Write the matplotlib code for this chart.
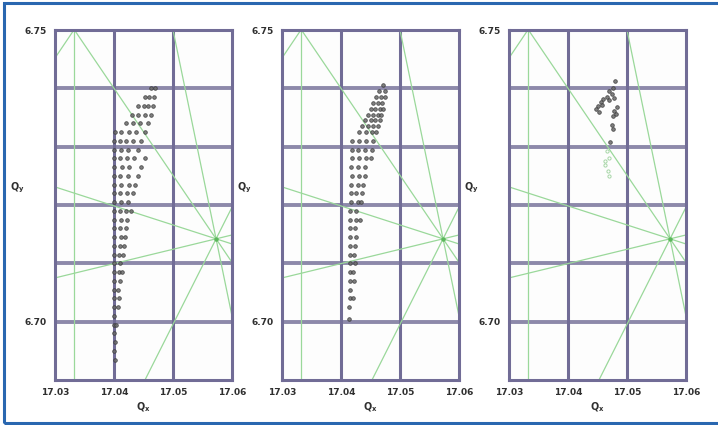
import matplotlib
matplotlib.use("Agg")
import matplotlib.pyplot as plt
from matplotlib.patches import Rectangle

# ---- axis settings ----
QX_TICKS = [17.03, 17.04, 17.05, 17.06]
QX_LABELS = ["17.03", "17.04", "17.05", "17.06"]
QY_GRID = [6.70, 6.71, 6.72, 6.73, 6.74]
QY_TICKS = [6.75, 6.70]
QY_LABELS = ["6.75", "6.70"]
QX_RANGE = (17.03, 17.06)
QY_RANGE = (6.69, 6.75)

# ---- resonance lines: vertical line and pairs of points on each line ----
RES_VERTICAL_QX = 17.0333
VERTEX = (17.0573, 6.7142)
RES_SEGMENT = ((17.03, 6.7452), (17.0332, 6.75))
RES_THROUGH_VERTEX = [
    (17.0333, 6.75),
    (17.03, 6.7231),
    (17.03, 6.7075),
    (17.04525, 6.69),
    (17.05, 6.75),
]

# ---- tune footprints, stored row by row (qy, list of qx) ----
P1_QY = [6.7400, 6.7385, 6.7370, 6.7355, 6.7340, 6.7325, 6.7310, 6.7295,
         6.7280, 6.7265, 6.7250, 6.7235, 6.7220, 6.7205, 6.7190, 6.7175,
         6.7160, 6.7145, 6.7130, 6.7115, 6.7100, 6.7085, 6.7070, 6.7055,
         6.7040, 6.7025, 6.7010, 6.6995, 6.6980, 6.6965, 6.6950, 6.6935]
P1_QX = [[17.0462, 17.0470],
         [17.0452, 17.0460, 17.0468],
         [17.0440, 17.0450, 17.0458, 17.0466],
         [17.0430, 17.0441, 17.0452, 17.0462],
         [17.0420, 17.0432, 17.0444, 17.0458],
         [17.0401, 17.0412, 17.0425, 17.0438, 17.0452],
         [17.0400, 17.0410, 17.0420, 17.0432, 17.0446],
         [17.0400, 17.0412, 17.0424, 17.0440],
         [17.0400, 17.0410, 17.0422, 17.0434, 17.0452],
         [17.0400, 17.0413, 17.0426, 17.0445],
         [17.0400, 17.0411, 17.0424, 17.0440],
         [17.0400, 17.0412, 17.0425, 17.0436],
         [17.0400, 17.0410, 17.0422, 17.0432],
         [17.0400, 17.0412, 17.0424],
         [17.0400, 17.0410, 17.0420, 17.0428],
         [17.0400, 17.0412, 17.0422],
         [17.0400, 17.0410, 17.0420],
         [17.0400, 17.0412, 17.0418],
         [17.0400, 17.0410, 17.0417],
         [17.0400, 17.0408, 17.0416],
         [17.0400, 17.0410],
         [17.0400, 17.0408, 17.0414],
         [17.0400, 17.0410],
         [17.0400, 17.0407],
         [17.0400, 17.0409],
         [17.0400, 17.0406],
         [17.0400],
         [17.0400, 17.0404],
         [17.0400],
         [17.0401],
         [17.0400],
         [17.0401]]

P2_QY = [6.7405, 6.7395, 6.7385, 6.7375, 6.7365, 6.7355, 6.7345, 6.7335,
         6.7325, 6.7310, 6.7295, 6.7280, 6.7265, 6.7250, 6.7235, 6.7220,
         6.7205, 6.7190, 6.7175, 6.7160, 6.7145, 6.7130, 6.7115, 6.7100,
         6.7085, 6.7070, 6.7055, 6.7040, 6.7025, 6.7005]
P2_QX = [[17.0472],
         [17.0465, 17.0474],
         [17.0460, 17.0468, 17.0474],
         [17.0455, 17.0463, 17.0470],
         [17.0450, 17.0458, 17.0466, 17.0472],
         [17.0446, 17.0454, 17.0462, 17.0468],
         [17.0440, 17.0450, 17.0458, 17.0466],
         [17.0436, 17.0446, 17.0455, 17.0462],
         [17.0430, 17.0442, 17.0452, 17.0460],
         [17.0418, 17.0430, 17.0442, 17.0454],
         [17.0418, 17.0428, 17.0440, 17.0452],
         [17.0418, 17.0430, 17.0442, 17.0450],
         [17.0417, 17.0428, 17.0440],
         [17.0418, 17.0430, 17.0440],
         [17.0417, 17.0428, 17.0438],
         [17.0417, 17.0426, 17.0436],
         [17.0417, 17.0428, 17.0434],
         [17.0416, 17.0426],
         [17.0416, 17.0425, 17.0432],
         [17.0416, 17.0424],
         [17.0416, 17.0426],
         [17.0416, 17.0424],
         [17.0415, 17.0422],
         [17.0415, 17.0423],
         [17.0415, 17.0421],
         [17.0415, 17.0422],
         [17.0415],
         [17.0415, 17.0420],
         [17.0414],
         [17.0414]]

P3_QX = [17.0480, 17.0477, 17.0470, 17.0474, 17.0466, 17.0460, 17.0456,
         17.0450, 17.0447, 17.0452, 17.0458, 17.0470, 17.0478, 17.0483,
         17.0478, 17.0476, 17.0482, 17.0474, 17.0476, 17.0472]
P3_QY = [6.7412, 6.7400, 6.7396, 6.7390, 6.7386, 6.7382, 6.7376,
         6.7370, 6.7364, 6.7360, 6.7372, 6.7380, 6.7384, 6.7368,
         6.7362, 6.7352, 6.7356, 6.7338, 6.7330, 6.7308]
P3_FAINT_QX = [17.0466, 17.0470, 17.0463, 17.0468, 17.0470, 17.0462]
P3_FAINT_QY = [6.7292, 6.7280, 6.7268, 6.7258, 6.7250, 6.7275]


def flatten(rows_qy, rows_qx):
    xs, ys = [], []
    for qy, qxs in zip(rows_qy, rows_qx):
        for qx in qxs:
            xs.append(qx)
            ys.append(qy)
    return xs, ys


GRID_COLOR = "#716c96"
GREEN = "#9ad89a"
INK = "#2f2f2f"

W, H = 718, 425
fig = plt.figure(figsize=(W / 100, H / 100), dpi=100)
fig.patch.set_facecolor("white")

# outer blue frame
fig.add_artist(Rectangle((4 / W, 2 / H), (W + 4) / W, (H - 5) / H,
                         transform=fig.transFigure, fill=False,
                         edgecolor="#2a67b0", linewidth=2.2))

lefts = [55, 282, 509]
ax_w, ax_top, ax_bot = 177, 30, 380

footprints = [flatten(P1_QY, P1_QX), flatten(P2_QY, P2_QX), (P3_QX, P3_QY)]

for i, left in enumerate(lefts):
    ax = fig.add_axes([left / W, 1 - ax_bot / H, ax_w / W, (ax_bot - ax_top) / H])
    ax.set_xlim(*QX_RANGE)
    ax.set_ylim(*QY_RANGE)
    ax.set_facecolor("#fdfdfd")

    # grid
    for qx in QX_TICKS[1:-1]:
        ax.axvline(qx, color=GRID_COLOR, lw=2.2, zorder=1)
    for qy in QY_GRID:
        ax.axhline(qy, color=GRID_COLOR, lw=2.8, alpha=0.8, zorder=1)
    for sp in ax.spines.values():
        sp.set_color(GRID_COLOR)
        sp.set_linewidth(2.2)

    # resonance lines
    ax.axvline(RES_VERTICAL_QX, color=GREEN, lw=0.9, zorder=2)
    ax.axline(RES_SEGMENT[0], RES_SEGMENT[1], color=GREEN, lw=0.9, zorder=2)
    for p in RES_THROUGH_VERTEX:
        ax.axline(p, VERTEX, color=GREEN, lw=0.9, zorder=2)
    ax.plot(*VERTEX, "o", color="#5cb85c", ms=2.2, zorder=3)

    # tune footprint
    xs, ys = footprints[i]
    ax.plot(xs, ys, "o", ms=2.6, mfc="#6a6a6a", mec="#3a3a3a", mew=0.6,
            alpha=0.85, zorder=4)
    if i == 2:
        ax.plot(P3_FAINT_QX, P3_FAINT_QY, "o", ms=2.3, mfc="none",
                mec="#a6d6a6", mew=0.7, zorder=4)

    ax.set_xticks(QX_TICKS)
    ax.set_xticklabels(QX_LABELS)
    ax.set_yticks(QY_TICKS)
    ax.set_yticklabels(QY_LABELS)
    ax.tick_params(length=0, pad=6, labelsize=6.5, labelcolor=INK)
    for lab in ax.get_xticklabels() + ax.get_yticklabels():
        lab.set_fontweight("bold")

    ax.set_xlabel(r"$\mathbf{Q_x}$", fontsize=7, color=INK, labelpad=2)
    ax.text(-0.21, 0.55, r"$\mathbf{Q_y}$", transform=ax.transAxes,
            fontsize=7, color=INK, ha="center", va="center")

fig.savefig("out.png", dpi=100, facecolor="white")
